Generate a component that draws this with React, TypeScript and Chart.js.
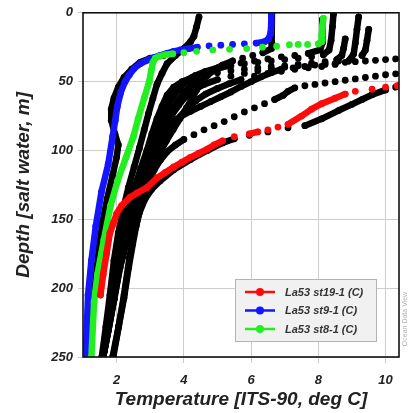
import { useEffect, useRef } from "react";
import { Chart, registerables } from "chart.js";

Chart.register(...registerables);

type P = [number, number]; // [temperature degC, depth m]

const xTicks = [2, 4, 6, 8, 10];
const yTicks = [0, 50, 100, 150, 200, 250];
const legendLabels = ["La53 st19-1 (C)", "La53 st9-1 (C)", "La53 st8-1 (C)"];

const st19: P[] = [[10.6,51],[10.35,53],[10.0,54],[9.6,55.5],[9.1,57],[8.8,59],[8.5,62],[8.1,66],[7.8,70],[7.5,75],[7.1,81],[6.8,83],[6.5,85],[6.2,86.5],[5.95,88],[5.5,90],[5.15,93],[4.9,96],[4.7,99],[4.45,102],[4.2,105],[3.95,108.5],[3.7,112],[3.45,116],[3.2,120],[2.9,127],[2.6,131],[2.4,134],[2.15,140],[2.0,146],[1.9,153],[1.8,160],[1.7,175],[1.6,190],[1.52,205]];
const st9: P[] = [[6.6,0],[6.6,8],[6.58,15],[6.52,19],[6.4,21],[6.15,22],[5.8,22.5],[5.45,23],[5.1,23.5],[4.75,24],[4.4,25],[4.15,26],[3.9,27],[3.7,28],[3.5,29.5],[3.3,31],[3.1,32.5],[2.9,34.5],[2.7,37],[2.52,40.5],[2.38,45],[2.25,50],[2.12,58],[2.02,68],[1.96,78],[1.88,90],[1.75,110],[1.55,130],[1.38,155],[1.25,180],[1.15,205],[1.08,250]];
const st8: P[] = [[8.15,4],[8.12,10],[8.1,16],[8.1,21],[8.0,22.5],[7.68,23],[7.4,23],[7.14,23.2],[6.76,24.3],[6.34,25],[5.87,26],[5.36,26.5],[4.86,27],[4.38,28],[4.0,29],[3.67,29.8],[3.45,30.5],[3.28,31.5],[3.15,33],[3.08,36],[3.03,42],[2.97,50],[2.82,62],[2.64,77],[2.5,90],[2.28,105],[2.03,122],[1.82,140],[1.62,165],[1.43,190],[1.33,210],[1.25,250]];

const other0: P[] = [[3.4,31],[3.0,33],[2.7,36],[2.45,41],[2.22,47],[2.05,54],[1.92,62],[1.84,70],[1.84,78],[1.95,88],[2.05,96],[2.0,105],[1.88,118],[1.72,135],[1.58,152],[1.48,170],[1.38,192],[1.3,215],[1.22,250]];
const other1: P[] = [[4.45,3],[4.38,10],[4.3,17],[4.2,21],[4.0,26],[3.75,31],[3.5,37],[3.35,44],[3.2,52],[3.08,62],[2.95,73],[2.82,85],[2.68,98],[2.52,112],[2.35,127],[2.2,142],[2.05,160],[1.92,180],[1.8,205],[1.68,228],[1.56,250]];
const other2: P[] = [[8.45,1],[8.42,10],[8.38,20],[8.32,27],[8.15,30.5],[7.8,32],[7.4,33],[7.0,34],[6.6,35],[6.2,36],[5.8,37],[5.4,38.5],[5.0,40],[4.65,42.5],[4.35,45.5],[4.1,49],[3.9,54],[3.7,60],[3.5,68],[3.32,78],[3.15,90],[2.98,102],[2.8,115],[2.6,130],[2.42,145],[2.24,162],[2.05,182],[1.9,205],[1.75,228],[1.6,250]];
const other3: P[] = [[9.2,3],[9.15,12],[9.1,22],[9.05,30],[8.9,35],[8.5,37.5],[8.1,39],[7.7,40],[7.3,41],[6.9,42.5],[6.5,44],[6.1,46],[5.7,48.5],[5.35,51.5],[5.0,55],[4.65,59],[4.35,64],[4.08,70],[3.82,77],[3.58,86],[3.38,96],[3.18,107],[2.98,119],[2.78,132],[2.55,148],[2.3,165],[2.1,185],[1.92,208],[1.76,230],[1.6,250]];
const other4: P[] = [[9.5,12],[9.45,20],[9.4,27],[9.3,31],[9.0,33],[8.6,35],[8.2,36.5],[7.8,37.5],[7.4,38.5],[7.0,39.5],[6.6,40.5],[6.2,42],[5.8,44],[5.4,46],[5.0,48.5],[4.6,52],[4.3,56],[4.05,61],[3.85,67],[3.65,74],[3.45,82],[3.27,92],[3.1,103],[2.92,115],[2.72,128],[2.5,143],[2.3,160],[2.1,178],[1.95,200],[1.78,225],[1.6,250]];
const other5: P[] = [[8.8,19],[8.75,26],[8.7,31],[8.55,34],[8.2,35.5],[7.8,36.5],[7.4,37.5],[7.0,38.5],[6.6,39],[6.2,40],[5.8,41],[5.4,42],[5.0,43.5],[4.6,45],[4.25,47],[3.95,50],[3.7,54],[3.5,60],[3.35,68],[3.2,77],[3.05,88],[2.9,100],[2.72,113],[2.52,128],[2.35,143],[2.18,160],[2.0,178],[1.86,200],[1.72,224],[1.58,250]];
const other6: P[] = [[11,0],[11,30],[10.6,32.5],[10.3,33.5],[10.0,34],[9.7,34.5],[9.4,35],[9.1,35.5],[8.8,36],[8.5,37],[8.2,37.5],[7.9,38],[7.6,39],[7.25,40],[6.9,41],[6.6,43.5],[6.3,46.5],[6.0,50],[5.7,53.5],[5.4,57.5],[5.1,61],[4.8,64.5],[4.5,68],[4.2,71.5],[3.9,75.5],[3.65,80],[3.4,86],[3.2,92],[3.0,98],[2.85,108],[2.72,120],[2.58,133],[2.42,148],[2.26,165],[2.08,185],[1.92,208],[1.76,230],[1.6,250]];
const other7: P[] = [[6.62,0],[6.62,22],[6.6,26],[6.35,29],[6.05,31],[5.75,33],[5.45,35],[5.15,38],[4.9,41.5],[4.7,45.5],[4.52,50],[4.38,56],[4.25,62],[4.08,69],[3.88,77],[3.68,85],[3.48,93],[3.3,101],[3.12,111],[2.95,122],[2.75,136],[2.52,150],[2.3,166],[2.1,185],[1.93,208],[1.76,230],[1.6,250]];
const other8: P[] = [[8.12,5],[8.12,22],[8.05,27],[7.7,29.5],[7.3,31],[6.9,32],[6.5,33.5],[6.1,35],[5.7,36.5],[5.3,38.5],[4.95,41],[4.65,44.5],[4.4,48.5],[4.2,53],[4.0,58],[3.82,64],[3.62,71],[3.42,80],[3.25,90],[3.08,100],[2.9,112],[2.72,124],[2.52,140],[2.35,155],[2.2,170],[2.03,190],[1.88,210],[1.73,232],[1.6,250]];
const other9: P[] = [[10.6,43.5],[10.3,44.3],[10.0,45],[9.7,46],[9.4,47],[9.1,48],[8.8,49],[8.5,50],[8.2,51],[7.9,52],[7.6,53],[7.3,54.5],[7.1,57],[6.95,60],[6.7,63],[6.4,66],[6.1,69],[5.8,72],[5.5,75.5],[5.2,79],[4.9,82],[4.6,85],[4.3,88.5],[4.0,92],[3.75,96],[3.5,101],[3.3,107],[3.12,114],[2.98,122],[2.85,130],[2.72,140],[2.58,155],[2.48,168],[2.36,185],[2.22,207],[2.06,228],[1.88,250]];
const other10: P[] = [[10.6,52.5],[10.3,54],[10.0,56],[9.6,59.5],[9.3,63],[9.0,66.5],[8.6,71],[8.1,77],[7.6,82],[7.1,83.5],[6.5,86.5],[5.95,89],[5.5,91.5],[5.15,94.5],[4.7,100],[4.2,106.5],[3.7,114],[3.3,122],[3.05,128],[2.85,135],[2.68,145],[2.52,160],[2.38,178],[2.22,205],[2.06,228],[1.9,250]];

const otherProfiles = [other0, other1, other2, other3, other4, other5, other6, other7, other8, other9, other10];

const RED = "#ff0a0a";
const BLUE = "#1414ff";
const GREEN = "#22ee22";
const BLACK = "#000000";
const legendColors = [RED, BLUE, GREEN];

const FAMILY = '"Liberation Sans", Arial, sans-serif';

const segColor = (color: string, ratio: number) => (ctx: any) => {
  const dx = Math.abs(ctx.p1.x - ctx.p0.x);
  const dy = Math.abs(ctx.p1.y - ctx.p0.y);
  return dx > 8.5 && dx > ratio * dy ? "rgba(0,0,0,0)" : color;
};

const mkDataset = (label: string, pts: P[], color: string, ratio = 3.5) => ({
  label,
  data: pts.map(([x, y]) => ({ x, y })),
  showLine: true,
  borderColor: color,
  backgroundColor: color,
  borderWidth: 6.5,
  pointRadius: 3.4,
  pointBorderWidth: 0,
  pointBackgroundColor: color,
  pointHoverRadius: 0,
  borderCapStyle: "round",
  borderJoinStyle: "round",
  tension: 0,
  clip: 0,
  segment: { borderColor: segColor(color, ratio) },
});

const framePlugin = {
  id: "frame",
  afterDatasetsDraw(chart: any) {
    const { ctx, chartArea } = chart;
    ctx.save();
    ctx.strokeStyle = "#111";
    ctx.lineWidth = 1.6;
    ctx.strokeRect(chartArea.left, chartArea.top, chartArea.right - chartArea.left, chartArea.bottom - chartArea.top);
    ctx.restore();
  },
};

const legendPlugin = {
  id: "boxLegend",
  afterDraw(chart: any) {
    const { ctx, chartArea } = chart;
    const w = 142;
    const h = 63;
    const x0 = chartArea.right - 22 - w;
    const y0 = chartArea.bottom - 15 - h;
    ctx.save();
    ctx.fillStyle = "#f1f1f1";
    ctx.fillRect(x0, y0, w, h);
    ctx.strokeStyle = "#b4b4b4";
    ctx.lineWidth = 1;
    ctx.strokeRect(x0 + 0.5, y0 + 0.5, w - 1, h - 1);
    legendLabels.forEach((label, i) => {
      const y = y0 + 13 + i * 18.5;
      const c = legendColors[i];
      ctx.strokeStyle = c;
      ctx.lineWidth = 2.5;
      ctx.beginPath();
      ctx.moveTo(x0 + 10, y);
      ctx.lineTo(x0 + 40, y);
      ctx.stroke();
      ctx.fillStyle = c;
      ctx.beginPath();
      ctx.arc(x0 + 25, y, 4, 0, Math.PI * 2);
      ctx.fill();
      ctx.fillStyle = "#333";
      ctx.font = `italic bold 11px ${FAMILY}`;
      ctx.textBaseline = "middle";
      ctx.textAlign = "left";
      ctx.fillText(label, x0 + 50, y + 0.5);
    });
    ctx.translate(chart.width - 5, chartArea.bottom - 38);
    ctx.rotate(-Math.PI / 2);
    ctx.font = `7px ${FAMILY}`;
    ctx.fillStyle = "#b0b0b0";
    ctx.textAlign = "center";
    ctx.textBaseline = "middle";
    ctx.fillText("Ocean Data View", 0, 0);
    ctx.restore();
  },
};

export default function App() {
  const canvasRef = useRef<HTMLCanvasElement | null>(null);

  useEffect(() => {
    document.body.style.margin = "0";
    const canvas = canvasRef.current;
    if (!canvas) return;
    const tickFont = { family: FAMILY, size: 13, style: "italic" as const, weight: "bold" as const };
    const titleFont = { family: FAMILY, size: 19, style: "italic" as const, weight: "bold" as const };
    const datasets: any[] = [
      mkDataset(legendLabels[0], st19, RED, 2.6),
      mkDataset(legendLabels[2], st8, GREEN),
      mkDataset(legendLabels[1], st9, BLUE),
      ...otherProfiles.map((p, i) =>
        mkDataset(`profile ${i + 1}`, p, BLACK, p === other9 ? 1.8 : 3.5)
      ),
    ];
    const chart = new Chart(canvas, {
      type: "scatter",
      data: { datasets },
      options: {
        animation: false,
        responsive: false,
        maintainAspectRatio: false,
        events: [],
        layout: { padding: { top: 11, right: 11, left: 0, bottom: 0 } },
        plugins: { legend: { display: false }, tooltip: { enabled: false } },
        scales: {
          x: {
            type: "linear",
            min: 1,
            max: 10.4,
            afterBuildTicks: (s: any) => {
              s.ticks = xTicks.map((v) => ({ value: v }));
            },
            afterFit: (s: any) => {
              s.height = 56;
            },
            ticks: { font: tickFont, color: "#222", padding: 10 },
            grid: { color: "#cdcdcd", lineWidth: 1, tickLength: 6 },
            border: { display: false },
            title: {
              display: true,
              text: "Temperature [ITS-90, deg C]",
              font: titleFont,
              color: "#222",
              padding: { top: 0, bottom: 2 },
            },
          },
          y: {
            type: "linear",
            reverse: true,
            min: 0,
            max: 250,
            afterBuildTicks: (s: any) => {
              s.ticks = yTicks.map((v) => ({ value: v }));
            },
            afterFit: (s: any) => {
              s.width = 83;
            },
            ticks: { font: tickFont, color: "#222", padding: 5 },
            grid: { color: "#cdcdcd", lineWidth: 1, tickLength: 5 },
            border: { display: false },
            title: {
              display: true,
              text: "Depth [salt water, m]",
              font: titleFont,
              color: "#222",
              padding: { top: 12, bottom: 0 },
            },
          },
        },
      } as any,
      plugins: [framePlugin, legendPlugin],
    });
    return () => chart.destroy();
  }, []);

  return (
    <div style={{ width: 410, height: 413, position: "relative", background: "#fff" }}>
      <canvas ref={canvasRef} width={410} height={413} style={{ display: "block" }} />
    </div>
  );
}
